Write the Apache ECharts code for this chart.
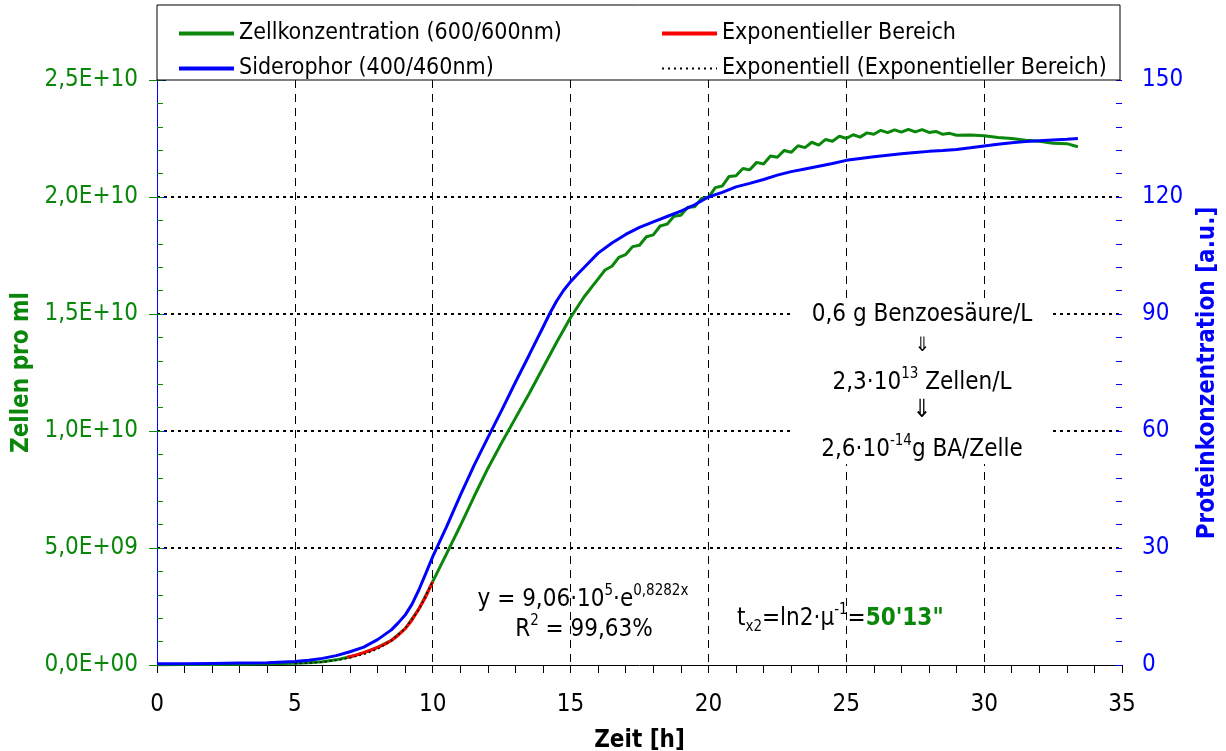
<!DOCTYPE html>
<html>
<head>
<meta charset="utf-8">
<script src="https://cdn.jsdelivr.net/npm/echarts@6/dist/echarts.min.js"></script>
<style>
  html, body { margin: 0; padding: 0; background: #fff; }
  #chart { width: 1226px; height: 751px; }
</style>
</head>
<body>
<div id="chart"></div>
<script>
// Zellkonzentration (Zellen pro ml)
const cellHours = [0, 1, 2, 3, 4, 5, 5.5, 6, 6.5, 7, 7.5, 8, 8.5, 9, 9.5, 10, 10.5, 11, 11.5, 12, 12.5, 13, 13.5, 14, 14.5, 15, 15.5,
  16, 16.25, 16.5, 16.75, 17, 17.25, 17.5, 17.75, 18, 18.25, 18.5, 18.75, 19, 19.25, 19.5, 19.75, 20, 20.25, 20.5, 20.75,
  21, 21.25, 21.5, 21.75, 22, 22.25, 22.5, 22.75, 23, 23.25, 23.5, 23.75, 24, 24.25, 24.5, 24.75, 25, 25.25, 25.5, 25.75,
  26, 26.25, 26.5, 26.75, 27, 27.25, 27.5, 27.75, 28, 28.25, 28.5, 28.75, 29, 29.5, 30, 30.5, 31, 31.5, 32, 32.5, 33, 33.4];
const cellValues = [0.0, 0.002, 0.002, 0.003, 0.005, 0.008, 0.010, 0.014, 0.022, 0.035, 0.053, 0.075, 0.105, 0.155, 0.240, 0.356, 0.475, 0.595, 0.720, 0.840, 0.950, 1.055, 1.160, 1.270, 1.380, 1.485, 1.575,
  1.650, 1.688, 1.704, 1.742, 1.754, 1.788, 1.794, 1.830, 1.838, 1.876, 1.884, 1.918, 1.922, 1.956, 1.958, 1.994, 1.998, 2.040, 2.047, 2.088,
  2.091, 2.122, 2.116, 2.148, 2.141, 2.175, 2.170, 2.199, 2.191, 2.219, 2.211, 2.234, 2.222, 2.246, 2.238, 2.260, 2.250, 2.266, 2.256, 2.274,
  2.268, 2.285, 2.275, 2.287, 2.277, 2.289, 2.278, 2.288, 2.276, 2.280, 2.268, 2.272, 2.264, 2.265, 2.262, 2.254, 2.250, 2.243, 2.238, 2.230, 2.228, 2.215]
  .map(v => v * 1e10);

// Siderophor (a.u., rechte Achse)
const sidHours = [0, 1, 2, 3, 4, 5, 5.5, 6, 6.5, 7, 7.5, 8, 8.5, 8.75, 9, 9.25, 9.5, 9.75, 10, 10.5, 11, 11.5, 12, 12.5, 13, 13.5, 14, 14.25, 14.5, 14.75, 15, 15.25, 15.5,
  16, 16.5, 17, 17.5, 18, 18.5, 19, 19.5, 20, 20.5, 21, 21.5, 22, 22.5, 23, 23.5, 24, 24.5, 25, 25.5, 26, 26.5, 27, 27.5,
  28, 28.5, 29, 29.5, 30, 30.5, 31, 31.5, 32, 32.5, 33, 33.4];
const sidValues = [0.3, 0.3, 0.4, 0.5, 0.6, 0.9, 1.2, 1.7, 2.4, 3.4, 4.6, 6.5, 9.0, 10.8, 12.8, 15.6, 19.3, 23.5, 27.8, 35.4, 43.5, 51.2, 58.3, 65.3, 72.5, 79.5, 86.6, 90.2, 93.4, 96.1, 98.3, 100.2, 102.0,
  105.6, 108.2, 110.4, 112.2, 113.6, 115.0, 116.4, 118.0, 120.0, 121.2, 122.6, 123.5, 124.5, 125.6, 126.5, 127.2, 127.9, 128.6, 129.4, 129.9,
  130.3, 130.7, 131.1, 131.4, 131.7, 131.9, 132.2, 132.6, 133.1, 133.5, 133.9, 134.2, 134.4, 134.6, 134.8, 135.0];

// Exponentieller Bereich
const expHours = [6.9, 7.25, 7.5, 7.75, 8, 8.25, 8.5, 8.75, 9, 9.25, 9.5, 9.75, 10];
const expValues = [0.033, 0.043, 0.053, 0.063, 0.075, 0.088, 0.105, 0.127, 0.155, 0.192, 0.240, 0.292, 0.356].map(v => v * 1e10);

// Trendlinie (gepunktet)
const fitHours = [5, 5.5, 6, 6.5, 7, 7.5, 8, 8.5, 9, 9.5, 10];
const fitValues = [0.0057, 0.0086, 0.013, 0.020, 0.030, 0.045, 0.068, 0.103, 0.156, 0.236, 0.358].map(v => v * 1e10);

const xTicks = [0, 35, 5];
const leftTicks = [0, 2.5e10, 5e9];
const rightTicks = [0, 150, 30];

const GREEN = '#0a870a';
const BLUE = '#0000ff';
const FONT = '"DejaVu Sans Condensed", "DejaVu Sans", sans-serif';
const FS = 24;

const pairs = (xs, ys) => xs.map((x, i) => [x, ys[i]]);

const sci = (v) => {
  if (v === 0) return '0,0E+00';
  const e = Math.floor(Math.log10(v) + 1e-9);
  const m = v / Math.pow(10, e);
  return m.toFixed(1).replace('.', ',') + 'E+' + String(e).padStart(2, '0');
};

const richBase = {
  n: { fontFamily: FONT, fontSize: FS, lineHeight: 28, verticalAlign: 'bottom', fill: '#000' },
  s: { fontFamily: FONT, fontSize: 15, lineHeight: 15, verticalAlign: 'top', fill: '#000' },
};

const chart = echarts.init(document.getElementById('chart'), null, { renderer: 'canvas' });

const hiddenAxis = {
  axisLine: { show: false },
  axisLabel: { show: false },
  splitLine: { show: false },
};

const legendText = { fontFamily: FONT, fontSize: 23, color: '#000', lineHeight: 25 };

const option = {
  animation: false,
  backgroundColor: '#fff',
  textStyle: { fontFamily: FONT },
  grid: { left: 157, right: 104, top: 80, bottom: 86, containLabel: false, outerBoundsMode: 'none' },
  legend: [
    {
      data: [
        { name: 'Zellkonzentration (600/600nm)', lineStyle: { width: 4 } },
        { name: 'Siderophor (400/460nm)', lineStyle: { width: 4 } },
      ],
      orient: 'vertical', left: 172, top: 16, itemWidth: 55, itemHeight: 14, itemGap: 10,
      itemStyle: { opacity: 0 },
      textStyle: legendText,
    },
    {
      data: [
        { name: 'Exponentieller Bereich', lineStyle: { width: 4 } },
        { name: 'Exponentiell (Exponentieller Bereich)', lineStyle: { width: 2, type: [2, 4] } },
      ],
      orient: 'vertical', left: 655, top: 16, itemWidth: 55, itemHeight: 14, itemGap: 10,
      itemStyle: { opacity: 0 },
      textStyle: legendText,
    },
  ],
  xAxis: [
    {
      type: 'value', min: xTicks[0], max: xTicks[1], interval: xTicks[2],
      name: 'Zeit [h]', nameLocation: 'middle', nameGap: 64,
      nameTextStyle: { fontFamily: FONT, fontSize: FS, fontWeight: 'bold', color: '#000' },
      axisLine: { show: true, lineStyle: { color: '#000', width: 1 } },
      axisTick: { show: false },
      axisLabel: { fontFamily: FONT, fontSize: FS, color: '#000', margin: 28 },
      splitLine: { show: true, showMinLine: false, showMaxLine: false, lineStyle: { color: '#000', width: 1, type: [8, 6] } },
    },
    Object.assign({ type: 'value', min: 0, max: 35, interval: 1,
      axisTick: { show: true, inside: true, length: 8, lineStyle: { color: '#000' } } }, hiddenAxis),
  ],
  yAxis: [
    {
      type: 'value', position: 'left', min: leftTicks[0], max: leftTicks[1], interval: leftTicks[2],
      name: 'Zellen pro ml', nameLocation: 'middle', nameRotate: 90, nameGap: 122,
      nameTextStyle: { fontFamily: FONT, fontSize: FS, fontWeight: 'bold', color: GREEN },
      axisLine: { show: true, lineStyle: { color: GREEN, width: 1 } },
      axisTick: { show: true, inside: false, length: 8, lineStyle: { color: GREEN } },
      axisLabel: { fontFamily: FONT, fontSize: FS, color: GREEN, margin: 19, formatter: sci },
      splitLine: { show: true, showMinLine: false, showMaxLine: false, lineStyle: { color: '#000', width: 2, type: [3, 4] } },
    },
    {
      type: 'value', position: 'right', min: rightTicks[0], max: rightTicks[1], interval: rightTicks[2],
      axisLine: { show: true, lineStyle: { color: BLUE, width: 1 } },
      axisTick: { show: true, inside: false, length: 9, lineStyle: { color: BLUE } },
      axisLabel: { fontFamily: FONT, fontSize: FS, color: BLUE, margin: 20 },
      splitLine: { show: false },
    },
    Object.assign({ type: 'value', position: 'left', min: 0, max: 2.5e10, interval: 1e9,
      axisTick: { show: true, inside: true, length: 6, lineStyle: { color: GREEN } } }, hiddenAxis),
    Object.assign({ type: 'value', position: 'right', min: 0, max: 150, interval: 6,
      axisTick: { show: true, inside: true, length: 6, lineStyle: { color: BLUE } } }, hiddenAxis),
  ],
  series: [
    {
      name: 'Zellkonzentration (600/600nm)', type: 'line', yAxisIndex: 0, symbol: 'none',
      data: pairs(cellHours, cellValues), lineStyle: { color: GREEN, width: 3 }, itemStyle: { color: GREEN }, z: 2,
    },
    {
      name: 'Siderophor (400/460nm)', type: 'line', yAxisIndex: 1, symbol: 'none',
      data: pairs(sidHours, sidValues), lineStyle: { color: BLUE, width: 3 }, itemStyle: { color: BLUE }, z: 3,
    },
    {
      name: 'Exponentieller Bereich', type: 'line', yAxisIndex: 0, symbol: 'none',
      data: pairs(expHours, expValues), lineStyle: { color: '#ff0000', width: 3 }, itemStyle: { color: '#ff0000' }, z: 4,
    },
    {
      name: 'Exponentiell (Exponentieller Bereich)', type: 'line', yAxisIndex: 0, symbol: 'none',
      data: pairs(fitHours, fitValues), lineStyle: { color: '#000', width: 1.5, type: [2, 3] }, itemStyle: { color: '#000' }, z: 5,
    },
  ],
  graphic: [
    { type: 'rect', shape: { x: 157, y: 5, width: 963, height: 75 }, style: { fill: 'none', stroke: '#000', lineWidth: 1 }, z: 1 },
    { type: 'rect', shape: { x: 790, y: 298, width: 263, height: 166 }, style: { fill: '#fff' }, z: 10 },
    {
      type: 'text', z: 11, x: 922, y: 315,
      style: { text: '0,6 g Benzoesäure/L', fontFamily: FONT, fontSize: FS, fill: '#000', align: 'center', verticalAlign: 'middle' },
    },
    {
      type: 'text', z: 11, x: 922, y: 346,
      style: { text: '⇓', fontFamily: FONT, fontSize: 20, fill: '#000', align: 'center', verticalAlign: 'middle' },
    },
    {
      type: 'text', z: 11, x: 922, y: 381,
      style: { text: '{n|2,3·10}{s|13}{n| Zellen/L}', align: 'center', verticalAlign: 'middle', rich: richBase },
    },
    {
      type: 'text', z: 11, x: 922, y: 410,
      style: { text: '⇓', fontFamily: FONT, fontSize: 25, fill: '#000', align: 'center', verticalAlign: 'middle' },
    },
    {
      type: 'text', z: 11, x: 922, y: 448,
      style: { text: '{n|2,6·10}{s|-14}{n|g BA/Zelle}', align: 'center', verticalAlign: 'middle', rich: richBase },
    },
    {
      type: 'text', z: 11, x: 583, y: 598,
      style: { text: '{n|y = 9,06·10}{s|5}{n|·e}{s|0,8282x}', align: 'center', verticalAlign: 'middle', rich: richBase },
    },
    {
      type: 'text', z: 11, x: 584, y: 628,
      style: { text: '{n|R}{s|2}{n| = 99,63%}', align: 'center', verticalAlign: 'middle', rich: richBase },
    },
    {
      type: 'text', z: 11, x: 737, y: 617,
      style: {
        text: '{n|t}{sub|x2}{n|=ln2·µ}{s|-1}{n|=}{b|50\'13"}', align: 'left', verticalAlign: 'middle',
        rich: Object.assign({}, richBase, {
          sub: { fontFamily: FONT, fontSize: 15, lineHeight: 15, verticalAlign: 'bottom', fill: '#000', padding: [0, 0, -4, 0] },
          b: { fontFamily: FONT, fontSize: FS, lineHeight: 28, verticalAlign: 'bottom', fontWeight: 'bold', fill: GREEN },
        }),
      },
    },
    {
      type: 'text', z: 11, x: 1208, y: 373, rotation: Math.PI / 2,
      style: { text: 'Proteinkonzentration [a.u.]', fontFamily: FONT, fontSize: FS, fontWeight: 'bold', fill: BLUE, align: 'center', verticalAlign: 'middle' },
    },
  ],
};

chart.setOption(option);
</script>
</body>
</html>
